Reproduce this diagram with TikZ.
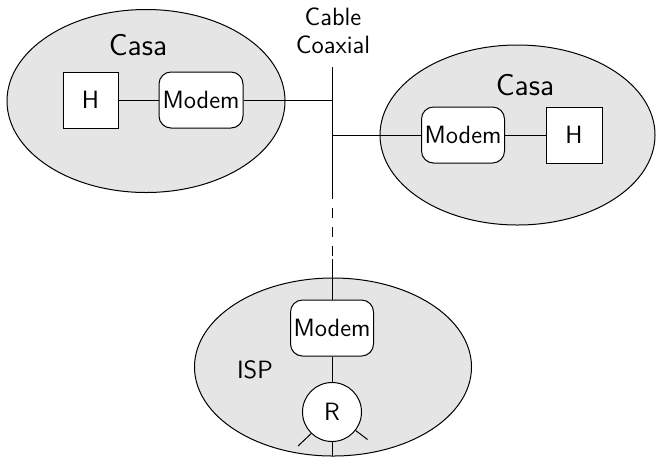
\documentclass[tikz,border=0pt]{standalone}
\usepackage{fontspec}
\usetikzlibrary{shapes.geometric}
\begin{document}
\begin{tikzpicture}[x=0.5pt,y=-0.5pt,
  every node/.style={font=\sffamily\fontsize{12.5}{14}\selectfont},
  zone/.style={ellipse,draw,fill=black!10,line width=0.5pt,inner sep=0pt},
  host/.style={draw,fill=white,line width=0.5pt,minimum width=28pt,minimum height=28pt,inner sep=0pt},
  modem/.style={draw,fill=white,rounded corners=6pt,line width=0.5pt,minimum width=41.5pt,minimum height=28pt,inner sep=0pt},
  router/.style={circle,draw,fill=white,line width=0.5pt,minimum size=29.5pt,inner sep=0pt},
  big/.style={font=\sffamily\fontsize{15}{18}\selectfont},
  wire/.style={line width=0.5pt}]
\useasboundingbox (0,0) rectangle (656,456);
% zones
\node[zone,minimum width=139pt,minimum height=91.5pt] (zL) at (146,101) {};
\node[zone,minimum width=137.5pt,minimum height=90pt] (zR) at (517.5,135) {};
\node[zone,minimum width=138.5pt,minimum height=89pt] (zB) at (333,367) {};
% labels
\node[big] (casaL) at (138,45) {Casa};
\node[big] (casaR) at (525,85) {Casa};
\node (isp) at (255,370) {ISP};
\node[align=center] (cable) at (333,31) {Cable\\Coaxial};
% devices
\node[host,minimum width=27.5pt] (hL) at (90.5,100) {H};
\node[modem,minimum width=42pt] (mL) at (201,100) {Modem};
\node[modem] (mR) at (463,135) {Modem};
\node[host] (hR) at (574,135) {H};
\node[modem] (mB) at (332,328) {Modem};
\node[router] (r) at (332,412) {R};
% cable coordinates
\coordinate (cTop) at (332,67);
\coordinate (jL) at (332,100);
\coordinate (jR) at (332,135);
\coordinate (cS) at (332,199);
\coordinate (d1) at (332,208);
\coordinate (d2) at (332,256);
\coordinate (cE) at (332,259);
\coordinate (rOut) at (332,456);
\coordinate (rOutL) at (298,446);
\coordinate (rOutR) at (367.5,439.5);
% wires
\draw[wire] (cTop) -- (cS);
\draw[wire,dash pattern=on 5pt off 4.5pt] (d1) -- (d2);
\draw[wire] (cE) -- (mB.north);
\draw[wire] (hL) -- (mL);
\draw[wire] (mL) -- (jL);
\draw[wire] (jR) -- (mR);
\draw[wire] (mR) -- (hR);
\draw[wire] (mB) -- (r);
\draw[wire] (r.south) -- (rOut);
\draw[wire] (r.-134) -- (rOutL);
\draw[wire] (r.-38) -- (rOutR);
\end{tikzpicture}
\end{document}
